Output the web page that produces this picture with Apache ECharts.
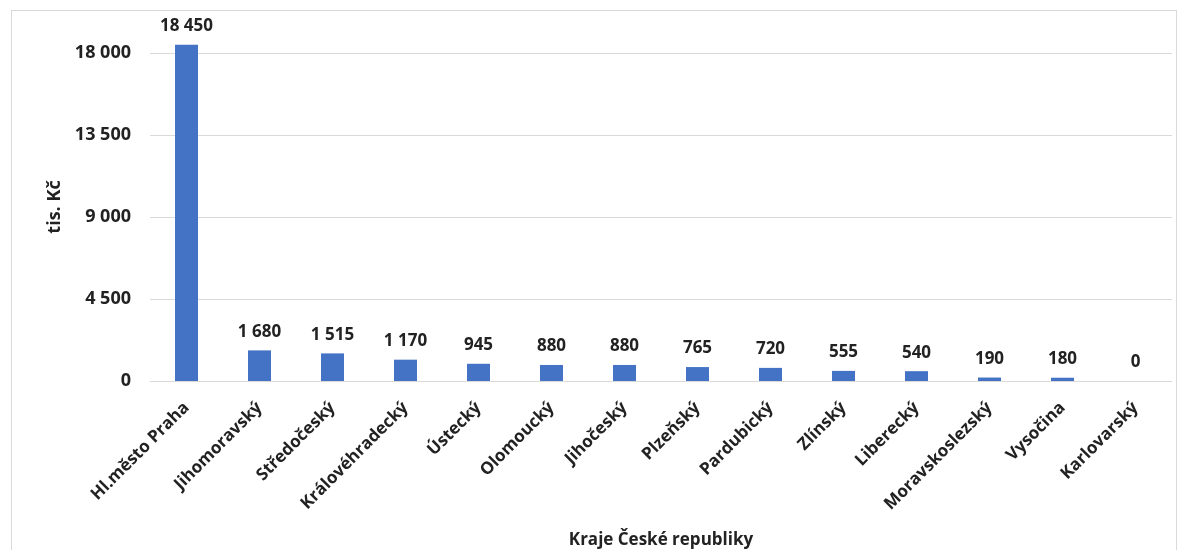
<!DOCTYPE html>
<html>
<head>
<meta charset="utf-8">
<script src="https://cdn.jsdelivr.net/npm/echarts@6/dist/echarts.min.js"></script>
<style>
  html, body { margin: 0; padding: 0; background: #fff; }
  #frame { position: absolute; left: 11px; top: 10px; width: 1164px; height: 560px; border: 1px solid #d9d9d9; }
  #chart { position: absolute; left: 0; top: 0; width: 1181px; height: 550px; }
</style>
</head>
<body>
<div id="frame"></div>
<div id="chart"></div>
<script>
// kraje a hodnoty (tis. Kč)
const regions = ['Hl.město Praha', 'Jihomoravský', 'Středočeský', 'Královéhradecký', 'Ústecký', 'Olomoucký',
  'Jihočeský', 'Plzeňský', 'Pardubický', 'Zlínský', 'Liberecký', 'Moravskoslezský', 'Vysočina', 'Karlovarský']
const values = [18450, 1680, 1515, 1170, 945, 880, 880, 765, 720, 555, 540, 190, 180, 0]
const yTicks = [0, 4500, 9000, 13500, 18000]

const fmt = (v) => String(v).replace(/\B(?=(\d{3})+(?!\d))/g, ' ')
const font = '"Open Sans", "Noto Sans", sans-serif'

const chart = echarts.init(document.getElementById('chart'))
chart.setOption({
  animation: false,
  textStyle: { fontFamily: font },
  grid: { left: 150, right: 9, top: 53, bottom: 169, outerBoundsMode: 'none', containLabel: false },
  xAxis: {
    type: 'category',
    data: regions,
    name: 'Kraje České republiky',
    nameLocation: 'middle',
    nameGap: 151,
    nameTextStyle: { fontSize: 17, fontWeight: 'bold', color: '#222' },
    axisLine: { lineStyle: { color: '#d9d9d9' } },
    axisTick: { show: false },
    axisLabel: { rotate: 45, margin: 24, fontSize: 17, fontWeight: 'bold', color: '#222' }
  },
  yAxis: {
    type: 'value',
    min: yTicks[0],
    max: yTicks[yTicks.length - 1],
    interval: yTicks[1] - yTicks[0],
    name: 'tis. Kč',
    nameLocation: 'middle',
    nameGap: 86,
    nameTextStyle: { fontSize: 18, fontWeight: 'bold', color: '#222', padding: [0, 0, 0, 20] },
    splitLine: { lineStyle: { color: '#d9d9d9' } },
    axisLabel: { fontSize: 18, fontWeight: 'bold', color: '#222', margin: 19, formatter: fmt }
  },
  series: [{
    type: 'bar',
    data: values,
    barWidth: 23,
    clip: false,
    itemStyle: { color: '#4472c4' },
    label: {
      show: true,
      position: 'top',
      distance: 10,
      fontSize: 17,
      fontWeight: 'bold',
      color: '#222',
      formatter: (p) => fmt(p.value)
    }
  }]
})
</script>
</body>
</html>
